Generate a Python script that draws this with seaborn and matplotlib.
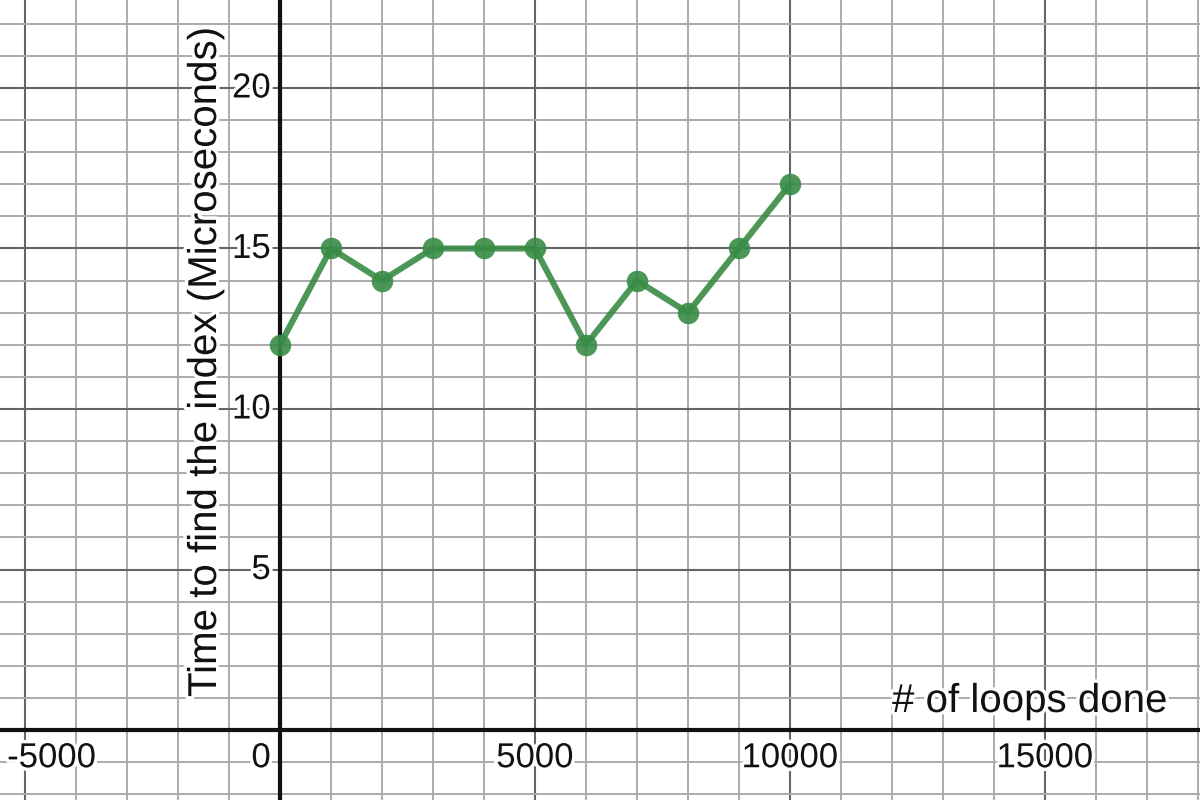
#import required libraries
import pandas as pd
import seaborn as sns
from matplotlib import pyplot as plt
from matplotlib import patheffects as pe
from matplotlib.ticker import MultipleLocator

#data
loops = [0, 1000, 2000, 3000, 4000, 5000, 6000, 7000, 8000, 9000, 10000]
times = [12, 15, 14, 15, 15, 15, 12, 14, 13, 15, 17]
x_ticks = [-5000, 0, 5000, 10000, 15000]
y_ticks = [5, 10, 15, 20]

df = pd.DataFrame({"loops": loops, "time": times})

sns.set_theme(style="white")
plt.rcParams['font.family'] = ['Liberation Sans', 'DejaVu Sans']

fig = plt.figure(figsize=(12, 8), dpi=100)
ax = fig.add_axes([0, 0, 1, 1])

#view window like the desmos screenshot
ax.set_xlim(-5490, 18040)
ax.set_ylim(-2.18, 22.74)

#grid: minor every 1000 / 1, major every 5000 / 5
ax.xaxis.set_major_locator(MultipleLocator(5000))
ax.xaxis.set_minor_locator(MultipleLocator(1000))
ax.yaxis.set_major_locator(MultipleLocator(5))
ax.yaxis.set_minor_locator(MultipleLocator(1))
ax.grid(which="minor", color="#ababab", lw=1.4)
ax.grid(which="major", color="#656565", lw=1.5)
ax.tick_params(which="both", length=0, labelbottom=False, labelleft=False)
for s in ax.spines.values():
    s.set_visible(False)

#axes lines
ax.axhline(0, color="#111111", lw=3)
ax.axvline(0, color="#111111", lw=3)

#the data
sns.lineplot(data=df, x="loops", y="time", ax=ax, color="#388c46", lw=4.4,
             marker="o", markersize=15.5, markeredgewidth=0, alpha=0.9, zorder=5)
ax.set_xlabel("")
ax.set_ylabel("")

halo = [pe.withStroke(linewidth=5, foreground="white")]

#tick labels (white halo like desmos)
for t in x_ticks:
    if t == 0:
        ax.text(-180, 0, "0", ha="right", va="top", fontsize=25,
                transform=ax.transData, path_effects=halo, color="#111111")
        continue
    ax.text(t, 0, str(t), ha="center", va="top", fontsize=25, path_effects=halo,
            color="#111111")
for txt in ax.texts:
    txt.set_y(-0.35)
# keep -5000 label inside the window
for txt in ax.texts:
    if txt.get_text() == "-5000":
        txt.set_x(-5350)
        txt.set_ha("left")

for t in y_ticks:
    ax.text(-180, t, str(t), ha="right", va="center", fontsize=25,
            path_effects=halo, color="#111111")

#axis labels
ax.text(1168 / 1200, 1 - 712 / 800, "# of loops done", ha="right", va="baseline",
        fontsize=29, transform=ax.transAxes, path_effects=halo, color="#111111")
ax.text(205 / 1200, 1 - 362 / 800, "Time to find the index (Microseconds)",
        ha="center", va="center", rotation=90, fontsize=29,
        transform=ax.transAxes, path_effects=halo, color="#111111")

plt.savefig("out.png", dpi=100)
plt.close()
print("Saved: out.png")
